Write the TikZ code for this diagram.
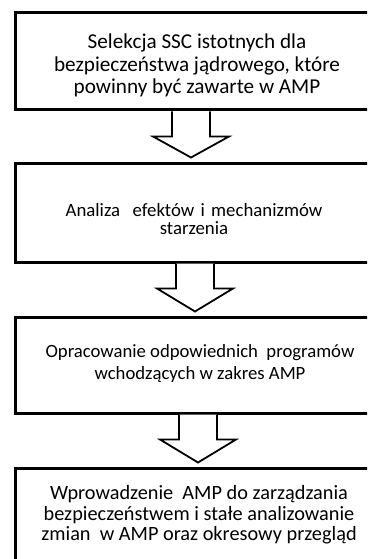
\documentclass[tikz,border=0pt]{standalone}
\usepackage{fontspec}
\setmainfont{Carlito}
\usetikzlibrary{calc}
\tikzset{
  stepbox/.style={draw=black, line width=3pt, fill=white, rectangle,
    minimum width=365pt, inner sep=0pt},
  steptext/.style={align=center, inner sep=0pt, text=black},
  blockarrow/.style={draw=black, line width=1.8pt, fill=white, line join=miter},
}
% block arrow hanging from the bottom of #1 down to just above #2, centred on coordinate #3
\newcommand\blockarr[3]{%
  \draw[blockarrow] ($(#1.south -| #3)+(-19,0)$) -- ++(0,25) -- ++(-19,0)
    -- ($(#2.north -| #3)+(0,-4)$)
    -- ($(#1.south -| #3)+(38,25)$) -- ++(-19,0) -- ++(0,-25);
}
\begin{document}
\begin{tikzpicture}[x=1pt, y=-1pt]
\useasboundingbox (0,0) rectangle (367,559);
\clip (0,0) rectangle (367,559);
\fill[white] (0,0) rectangle (367,559);

% process steps
\node[stepbox, minimum height=97pt] (b1) at (197.5,61.5) {};
\node[stepbox, minimum height=99pt] (b2) at (197.5,212.5) {};
\node[stepbox, minimum height=96pt] (b3) at (197.5,365) {};
\node[stepbox, minimum height=94pt] (b4) at (197.5,515) {};

\node[steptext, font=\fontsize{21.2}{22.5}\selectfont] (t1) at (197,65.5)
  {Selekcja SSC istotnych dla\\bezpieczeństwa jądrowego, które\\powinny być zawarte w AMP};
\node[steptext, font=\fontsize{18.8}{18.5}\selectfont, text width=330pt] (t2) at (194,219)
  {Analiza\ \ efektów\ i mechanizmów\\starzenia};
\node[steptext, font=\fontsize{18.7}{22}\selectfont] (t3) at (200,364)
  {Opracowanie odpowiednich\ \ programów\\wchodzących w zakres AMP};
\node[steptext, font=\fontsize{20.3}{20.5}\selectfont] (t4) at (199,515)
  {Wprowadzenie\ \ AMP do zarządzania\\bezpieczeństwem i stałe analizowanie\\zmian\ \ w AMP oraz okresowy przegląd};

% centre lines of the arrows
\coordinate (x1) at (191,0);
\coordinate (x2) at (195,0);
\coordinate (x3) at (198,0);

\blockarr{b1}{b2}{x1}
\blockarr{b2}{b3}{x2}
\blockarr{b3}{b4}{x3}
\end{tikzpicture}
\end{document}
